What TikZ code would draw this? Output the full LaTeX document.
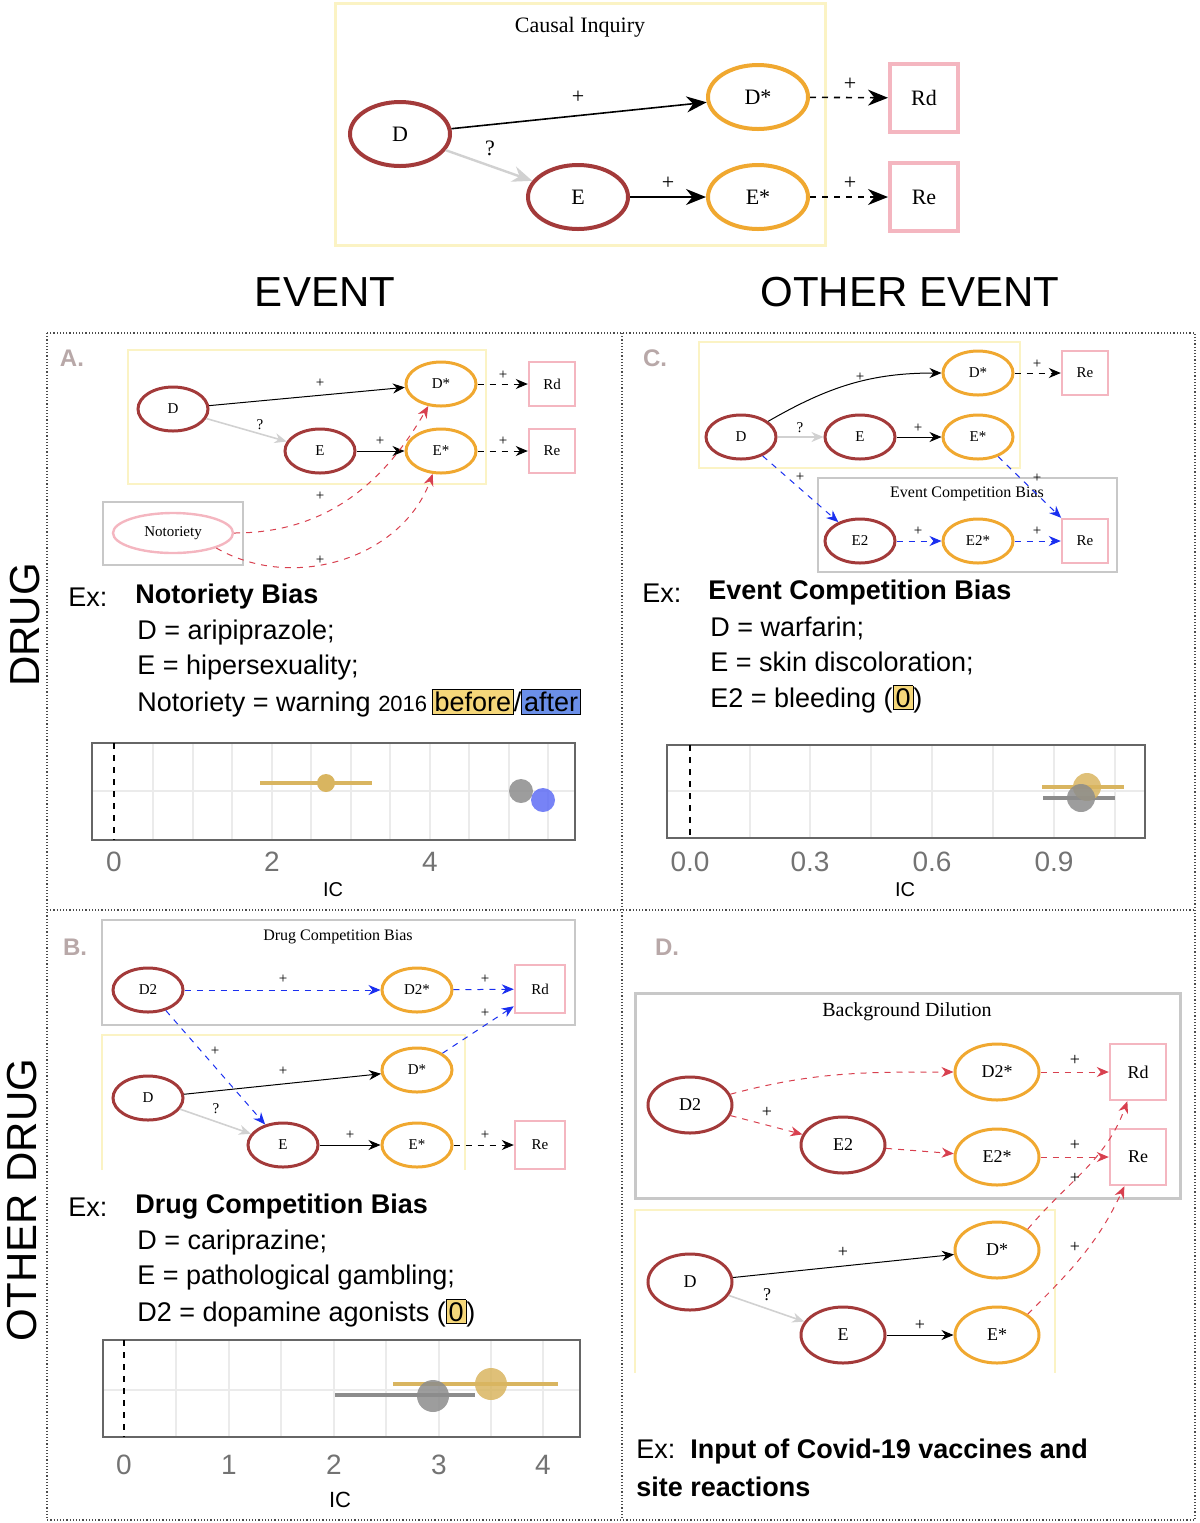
\documentclass[tikz,border=0pt]{standalone}
\usepackage{fontspec}
\setmainfont{Liberation Serif}
\setsansfont{Liberation Sans}
\usetikzlibrary{arrows.meta,shapes.geometric}
\definecolor{dred}{HTML}{A33A3A}
\definecolor{orng}{HTML}{F0A830}
\definecolor{pnk}{HTML}{F4B6C0}
\definecolor{ylw}{HTML}{FBF3C4}
\definecolor{gbox}{HTML}{C8C8C8}
\definecolor{redd}{HTML}{D8404F}
\definecolor{bluee}{HTML}{1A2FF0}
\definecolor{hly}{HTML}{F5D77A}
\definecolor{hlb}{HTML}{6B8FE8}
\definecolor{ptY}{HTML}{D9B560}
\definecolor{lbl}{HTML}{B8A8A8}
\setlength\fboxsep{1pt}
\tikzset{
 dr/.style={ellipse,draw=dred,line width=1.5pt,minimum width=35pt,minimum height=22pt,inner sep=0pt,font=\fontsize{7.5}{8}\selectfont},
 st/.style={ellipse,draw=orng,line width=1.5pt,minimum width=35pt,minimum height=22pt,inner sep=0pt,font=\fontsize{7.5}{8}\selectfont},
 ob/.style={rectangle,draw=pnk,line width=1.2pt,minimum width=23pt,minimum height=22pt,inner sep=0pt,font=\fontsize{7.5}{8}\selectfont},
 big/.style={line width=2pt,minimum width=50pt,minimum height=32pt,font=\fontsize{11}{13}\selectfont},
 bigb/.style={line width=2pt,minimum width=34pt,minimum height=34pt,font=\fontsize{11}{13}\selectfont},
 mid/.style={minimum width=42pt,minimum height=28pt,font=\fontsize{9}{10}\selectfont},
 midb/.style={minimum width=28pt,minimum height=28pt,font=\fontsize{9}{10}\selectfont},
 ar/.style={-{Stealth[length=6pt,width=5pt]},line width=0.5pt},
 tar/.style={-{Stealth[length=10pt,width=8pt]},line width=0.8pt},
 blk/.style={ar,black},
 gry/.style={ar,black!18,line width=0.8pt},
 dsh/.style={ar,black,dashed},
 bdsh/.style={ar,bluee,dashed},
 rdsh/.style={ar,redd,dashed},
 pl/.style={font=\fontsize{7.5}{8}\selectfont},
 plb/.style={font=\fontsize{11}{12}\selectfont},
 ybox/.style={draw=ylw,line width=1pt},
 gbx/.style={draw=gbox,line width=1pt},
 ttl/.style={font=\fontsize{8}{9}\selectfont},
 ex/.style={font=\sffamily\fontsize{13.5}{15}\selectfont,anchor=west,inner sep=0pt},
 exb/.style={font=\sffamily\bfseries\fontsize{13.5}{15}\selectfont,anchor=west,inner sep=0pt},
 tick/.style={font=\sffamily\fontsize{14}{15}\selectfont,text=black!55},
 plab/.style={font=\sffamily\bfseries\fontsize{12}{13}\selectfont,text=lbl},
 head/.style={font=\sffamily\fontsize{21}{23}\selectfont},
 pbox/.style={draw=black!60,line width=0.6pt},
 grid/.style={black!8,line width=0.6pt},
}
\begin{document}
\begin{tikzpicture}[x=0.5pt,y=-0.5pt]
\useasboundingbox (0,0) rectangle (1200,1523);
% ===== Top =====
\draw[ybox,line width=1.5pt] (335,3) rectangle (825,245);
\node[font=\fontsize{11}{13}\selectfont] (t0) at (580,27) {Causal Inquiry};
\node[dr,big] (TD) at (400,134) {D};
\node[st,big] (TDs) at (758,97) {D*};
\node[dr,big] (TE) at (578,197) {E};
\node[st,big] (TEs) at (758,197) {E*};
\node[ob,bigb] (TRd) at (924,98) {Rd};
\node[ob,bigb] (TRe) at (924,197) {Re};
\draw[tar,black] (TD) -- (TDs);
\draw[tar,black!18,line width=1.2pt] (TD) -- (TE);
\draw[tar,black] (TE) -- (TEs);
\draw[tar,black,dashed] (TDs) -- (TRd);
\draw[tar,black,dashed] (TEs) -- (TRe);
\node[plb] at (578,97) {+};
\node[plb] at (490,148) {?};
\node[plb] at (668,183) {+};
\node[plb] at (850,84) {+};
\node[plb] at (850,183) {+};
% headers
\node[head] (h1) at (325,292) {EVENT};
\node[head] (h2) at (910,292) {OTHER EVENT};
\node[head,rotate=90] (h3) at (25,625) {DRUG};
\node[head,rotate=90] (h4) at (22,1200) {OTHER DRUG};
% panel borders
\draw[densely dotted,black!70,line width=0.6pt] (47,333) rectangle (1195,1520);
\draw[densely dotted,black!70,line width=0.6pt] (622,333) -- (622,1520);
\draw[densely dotted,black!70,line width=0.6pt] (47,910) -- (1195,910);
% ===== Panel A =====
\node[plab] (la) at (72,358) {A.};
\draw[ybox] (128,350) rectangle (486,484);
\node[dr] (AD) at (173,409) {D};
\node[st] (ADs) at (441,384) {D*};
\node[dr] (AE) at (320,451) {E};
\node[st] (AEs) at (441,451) {E*};
\node[ob] (ARd) at (552,384) {Rd};
\node[ob] (ARe) at (552,451) {Re};
\draw[gbx] (103,502) rectangle (243,565);
\node[ellipse,draw=pnk,line width=1.2pt,minimum width=60pt,minimum height=20pt,inner sep=0pt,font=\fontsize{7.5}{8}\selectfont] (AN) at (173,533) {Notoriety};
\draw[blk] (AD) -- (ADs);
\draw[gry] (AD) -- (AE);
\draw[blk] (AE) -- (AEs);
\draw[dsh] (ADs) -- (ARd);
\draw[dsh] (AEs) -- (ARe);
\draw[rdsh] (AN.east) to[out=0,in=240] (ADs);
\draw[rdsh] (AN.south east) to[out=-30,in=250] (AEs);
\node[pl] at (320,383) {+};
\node[pl] at (260,425) {?};
\node[pl] at (380,441) {+};
\node[pl] at (503,375) {+};
\node[pl] at (503,441) {+};
\node[pl] at (320,496) {+};
\node[pl] at (320,560) {+};
\node[ex] (ax) at (68,597) {Ex:};
\node[exb] (at) at (135,597) {Notoriety Bias};
\node[ex] at (137,633) {D = aripiprazole;};
\node[ex] at (137,668) {E = hipersexuality;};
\node[ex] at (137,703) {Notoriety = warning {\fontsize{11}{12}\selectfont 2016}\,\fcolorbox{black}{hly}{before}/\fcolorbox{black}{hlb}{after}};
% plot A
\foreach \x in {153,193,232,272,311,351,390,430,469,509,548} \draw[grid] (\x,743) -- (\x,840);
\draw[grid] (92,791) -- (575,791);
\draw[pbox] (92,743) rectangle (575,840);
\draw[dashed,line width=0.8pt] (114,743) -- (114,840);
\draw[ptY,line width=1.8pt] (260,783) -- (372,783);
\fill[ptY] (326,783) circle (9);
\fill[black!45,opacity=0.85] (521,791) circle (12);
\fill[bluee!70,opacity=0.85] (543,800) circle (12);
\node[tick] at (114,862) {0};
\node[tick] at (272,862) {2};
\node[tick] at (430,862) {4};
\node[font=\sffamily\fontsize{10}{11}\selectfont] at (333,890) {IC};
% ===== Panel C =====
\node[plab] (lc) at (655,358) {C.};
\draw[ybox] (699,342) rectangle (1020,468);
\node[dr] (CD) at (741,437) {D};
\node[st] (CDs) at (978,373) {D*};
\node[dr] (CE) at (860,437) {E};
\node[st] (CEs) at (978,437) {E*};
\node[ob] (CRe) at (1085,373) {Re};
\draw[gbx] (818,478) rectangle (1117,572);
\node[ttl] at (967,494) {Event Competition Bias};
\node[dr] (CE2) at (860,541) {E2};
\node[st] (CE2s) at (978,541) {E2*};
\node[ob] (CRe2) at (1085,541) {Re};
\draw[blk] (CD) to[out=30,in=180] (CDs);
\draw[gry] (CD) -- (CE);
\draw[blk] (CE) -- (CEs);
\draw[dsh] (CDs) -- (CRe);
\draw[bdsh] (CD) -- (CE2);
\draw[bdsh] (CE2) -- (CE2s);
\draw[bdsh] (CE2s) -- (CRe2);
\draw[bdsh] (CEs) -- (CRe2);
\node[pl] at (860,377) {+};
\node[pl] at (800,428) {?};
\node[pl] at (918,428) {+};
\node[pl] at (1037,364) {+};
\node[pl] at (800,477) {+};
\node[pl] at (918,531) {+};
\node[pl] at (1037,531) {+};
\node[pl] at (1037,478) {+};
\node[ex] (cx) at (642,593) {Ex:};
\node[exb] at (708,593) {Event Competition Bias};
\node[ex] at (710,628) {D = warfarin;};
\node[ex] at (710,663) {E = skin discoloration;};
\node[ex] at (710,699) {E2 = bleeding (\fcolorbox{black}{hly}{0})};
% plot C
\foreach \x in {750,810,871,932,993,1054,1115} \draw[grid] (\x,745) -- (\x,838);
\draw[grid] (667,791) -- (1145,791);
\draw[pbox] (667,745) rectangle (1145,838);
\draw[dashed,line width=0.8pt] (690,745) -- (690,838);
\draw[ptY,line width=1.8pt] (1042,787) -- (1124,787);
\draw[black!45,line width=1.8pt] (1043,798) -- (1115,798);
\fill[ptY,opacity=0.85] (1087,787) circle (14);
\fill[black!45,opacity=0.85] (1081,798) circle (14);
\node[tick] at (690,862) {0.0};
\node[tick] at (810,862) {0.3};
\node[tick] at (932,862) {0.6};
\node[tick] at (1054,862) {0.9};
\node[font=\sffamily\fontsize{10}{11}\selectfont] at (905,890) {IC};
% ===== Panel B =====
\node[plab] (lb) at (75,947) {B.};
\draw[gbx] (102,920) rectangle (575,1025);
\node[ttl] at (338,937) {Drug Competition Bias};
\draw[ybox] (102,1170) -- (102,1035) -- (465,1035) -- (465,1170);
\node[dr] (BD2) at (148,990) {D2};
\node[st] (BD2s) at (417,990) {D2*};
\node[ob,minimum width=25pt,minimum height=24pt] (BRd) at (540,989) {Rd};
\node[dr] (BD) at (148,1098) {D};
\node[st] (BDs) at (417,1070) {D*};
\node[dr] (BE) at (283,1145) {E};
\node[st] (BEs) at (417,1145) {E*};
\node[ob,minimum width=25pt,minimum height=24pt] (BRe) at (540,1145) {Re};
\draw[bdsh] (BD2) -- (BD2s);
\draw[bdsh] (BD2s) -- (BRd);
\draw[bdsh] (BD2) -- (BE);
\draw[bdsh] (BDs) -- (BRd);
\draw[blk] (BD) -- (BDs);
\draw[gry] (BD) -- (BE);
\draw[blk] (BE) -- (BEs);
\draw[dsh] (BEs) -- (BRe);
\node[pl] at (283,979) {+};
\node[pl] at (485,979) {+};
\node[pl] at (215,1051) {+};
\node[pl] at (485,1013) {+};
\node[pl] at (283,1071) {+};
\node[pl] at (216,1109) {?};
\node[pl] at (350,1135) {+};
\node[pl] at (485,1135) {+};
\node[ex] (bx) at (68,1207) {Ex:};
\node[exb] at (135,1207) {Drug Competition Bias};
\node[ex] at (137,1243) {D = cariprazine;};
\node[ex] at (137,1278) {E = pathological gambling;};
\node[ex] at (137,1313) {D2 = dopamine agonists (\fcolorbox{black}{hly}{0})};
% plot B
\foreach \x in {176,229,281,334,386,439,491,543} \draw[grid] (\x,1340) -- (\x,1437);
\draw[grid] (103,1390) -- (580,1390);
\draw[pbox] (103,1340) rectangle (580,1437);
\draw[dashed,line width=0.8pt] (124,1340) -- (124,1437);
\draw[ptY,line width=1.8pt] (393,1384) -- (558,1384);
\draw[black!45,line width=1.8pt] (335,1395) -- (475,1395);
\fill[ptY,opacity=0.85] (491,1384) circle (16);
\fill[black!45,opacity=0.85] (433,1396) circle (16);
\node[tick] at (124,1465) {0};
\node[tick] at (229,1465) {1};
\node[tick] at (334,1465) {2};
\node[tick] at (439,1465) {3};
\node[tick] at (543,1465) {4};
\node[font=\sffamily\fontsize{11}{12}\selectfont] at (340,1500) {IC};
% ===== Panel D =====
\node[plab] (ld) at (667,947) {D.};
\draw[gbx,line width=1.5pt] (635,993) rectangle (1180,1198);
\node[font=\fontsize{10}{11}\selectfont] at (907,1012) {Background Dilution};
\draw[ybox] (635,1373) -- (635,1210) -- (1055,1210) -- (1055,1373);
\node[dr,mid] (DD2) at (690,1105) {D2};
\node[st,mid] (DD2s) at (997,1072) {D2*};
\node[dr,mid] (DE2) at (843,1145) {E2};
\node[st,mid] (DE2s) at (997,1157) {E2*};
\node[ob,midb] (DRd) at (1138,1072) {Rd};
\node[ob,midb] (DRe) at (1138,1157) {Re};
\node[dr,mid] (DD) at (690,1282) {D};
\node[st,mid] (DDs) at (997,1250) {D*};
\node[dr,mid] (DE) at (843,1335) {E};
\node[st,mid] (DEs) at (997,1335) {E*};
\draw[rdsh] (DD2) to[out=15,in=180] (DD2s);
\draw[rdsh] (DD2) -- (DE2);
\draw[rdsh] (DE2) -- (DE2s);
\draw[rdsh] (DD2s) -- (DRd);
\draw[rdsh] (DE2s) -- (DRe);
\draw[rdsh] (DDs.north east) to[out=50,in=250] (DRd);
\draw[rdsh] (DEs.north east) to[out=45,in=245] (DRe);
\draw[blk] (DD) -- (DDs);
\draw[gry] (DD) -- (DE);
\draw[blk] (DE) -- (DEs);
\node[pl,font=\fontsize{9}{10}\selectfont] at (767,1112) {+};
\node[pl,font=\fontsize{9}{10}\selectfont] at (1075,1060) {+};
\node[pl,font=\fontsize{9}{10}\selectfont] at (1075,1145) {+};
\node[pl,font=\fontsize{9}{10}\selectfont] at (1075,1178) {+};
\node[pl,font=\fontsize{9}{10}\selectfont] at (1075,1247) {+};
\node[pl,font=\fontsize{9}{10}\selectfont] at (843,1252) {+};
\node[pl,font=\fontsize{9}{10}\selectfont] at (767,1295) {?};
\node[pl,font=\fontsize{9}{10}\selectfont] at (920,1325) {+};
\node[exb] (dx) at (636,1452) {\mdseries Ex:\ \ \bfseries Input of Covid-19 vaccines and};
\node[exb] at (636,1487) {site reactions};
\end{tikzpicture}
\end{document}
